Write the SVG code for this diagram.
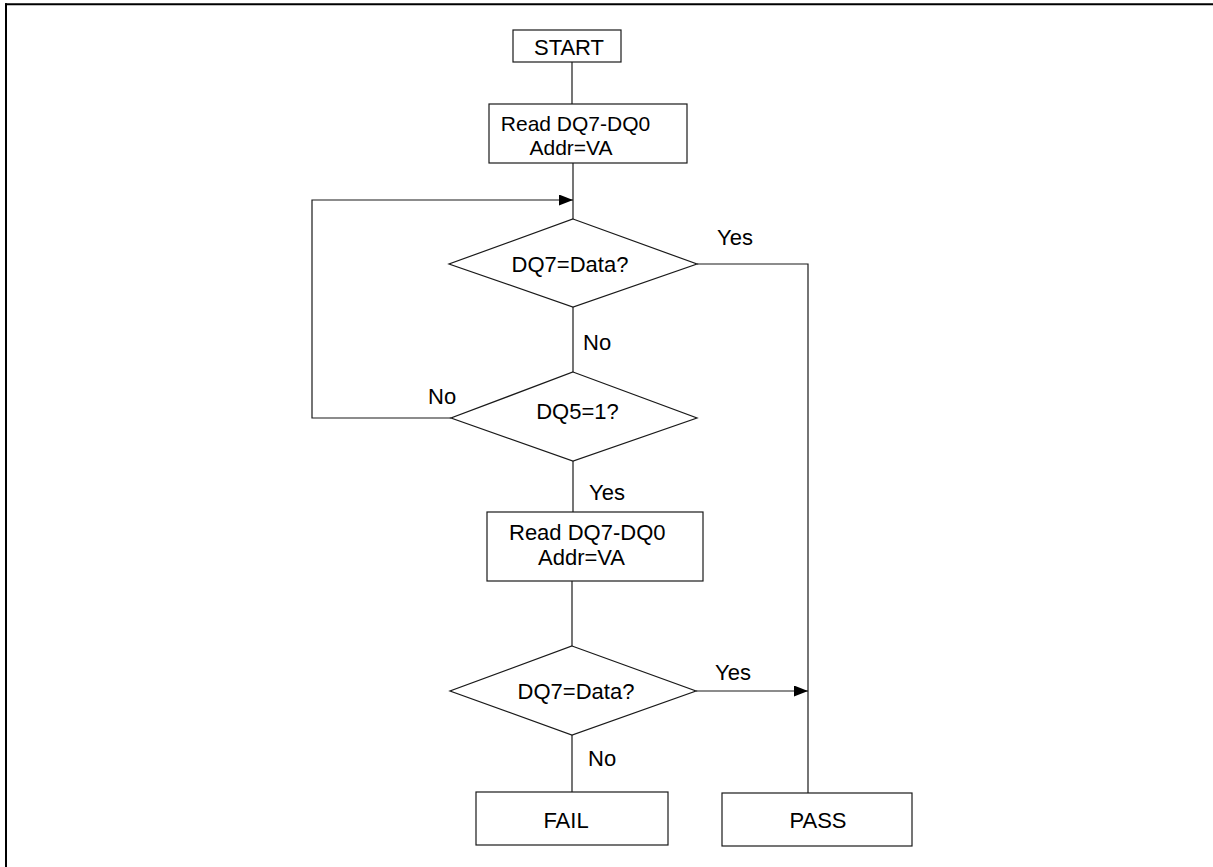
<svg xmlns="http://www.w3.org/2000/svg" width="1213" height="867" viewBox="0 0 1213 867">
<style>
.s{fill:#fff;stroke:#1a1a1a;stroke-width:1.2}
.c{fill:none;stroke:#1a1a1a;stroke-width:1.2}
.t{font-family:"Liberation Sans",Arial,sans-serif;font-size:22px;fill:#000}
.m{text-anchor:middle}
.sm{font-size:21px}
</style>
<defs>
<marker id="ar" viewBox="0 0 14 11" refX="14" refY="5.5" markerWidth="14" markerHeight="11" markerUnits="userSpaceOnUse" orient="auto">
<path d="M0,0 L14,5.5 L0,11 z" fill="#000"/>
</marker>
</defs>
<rect width="1213" height="867" fill="#fff"/>
<g id="frame">
<line x1="5" y1="4.3" x2="1213" y2="4.3" stroke="#000" stroke-width="2"/>
<line x1="6" y1="3.3" x2="6" y2="867" stroke="#000" stroke-width="2"/>
</g>
<g id="connectors">
<line class="c" x1="572" y1="62" x2="572" y2="104"/>
<line class="c" x1="573" y1="163" x2="573" y2="219"/>
<path class="c" d="M451,418 H312 V200 H573" marker-end="url(#ar)"/>
<path class="c" d="M697,264 H808 V793"/>
<line class="c" x1="573" y1="307" x2="573" y2="372"/>
<line class="c" x1="573" y1="461" x2="573" y2="512"/>
<line class="c" x1="572" y1="581" x2="572" y2="646"/>
<line class="c" x1="696" y1="691" x2="808" y2="691" marker-end="url(#ar)"/>
<line class="c" x1="572" y1="735" x2="572" y2="792"/>
<text class="t" x="717" y="245">Yes</text>
<text class="t" x="583" y="350">No</text>
<text class="t" x="428" y="404">No</text>
<text class="t" x="589" y="500">Yes</text>
<text class="t" x="715" y="680">Yes</text>
<text class="t" x="588" y="766">No</text>
</g>
<g id="start">
<rect class="s" x="513" y="30" width="108" height="32"/>
<text class="t m" x="569" y="54.5">START</text>
</g>
<g id="read1">
<rect class="s" x="489" y="104" width="198" height="59"/>
<text class="t sm m" x="575.5" y="131">Read DQ7-DQ0</text>
<text class="t sm m" x="571" y="155">Addr=VA</text>
</g>
<g id="dec1">
<polygon class="s" points="573,219 697,264 573,307 449,264"/>
<text class="t m" x="570" y="271.5">DQ7=Data?</text>
</g>
<g id="dec2">
<polygon class="s" points="573,372 697,418 573,461 451,418"/>
<text class="t m" x="577.5" y="419">DQ5=1?</text>
</g>
<g id="read2">
<rect class="s" x="487" y="512" width="216" height="69"/>
<text class="t" x="509" y="540">Read DQ7-DQ0</text>
<text class="t" x="538" y="565">Addr=VA</text>
</g>
<g id="dec3">
<polygon class="s" points="572,646 696,691 572,735 450,691"/>
<text class="t m" x="576" y="699">DQ7=Data?</text>
</g>
<g id="fail">
<rect class="s" x="476" y="792" width="192" height="53"/>
<text class="t m" x="566" y="827.5">FAIL</text>
</g>
<g id="pass">
<rect class="s" x="722" y="793" width="190" height="53"/>
<text class="t m" x="818" y="828">PASS</text>
</g>
</svg>
